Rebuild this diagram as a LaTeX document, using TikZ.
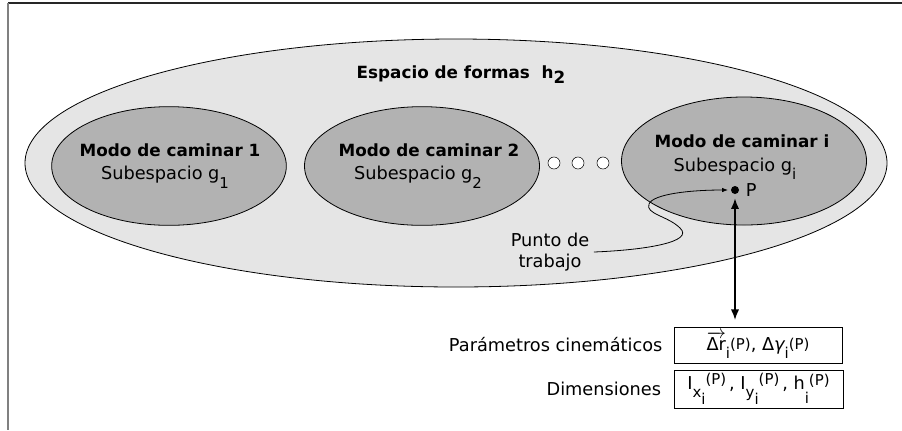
\documentclass[tikz,border=0pt]{standalone}
\usepackage{fontspec}
\setmainfont{DejaVu Sans}
\usetikzlibrary{
	shapes.geometric,
	arrows.meta,
	positioning
}
\newcommand{\sm}[2]{\raisebox{#1}{\fontsize{11.2}{12}\selectfont #2}}

\begin{document}
\begin{tikzpicture}[
            x=0.75pt, y=-0.75pt,
            every node/.style={font=\fontsize{13.3}{15.75}\selectfont},
            region/.style={ellipse, draw, inner sep=0pt, line width=0.6pt},
            espacio/.style={region, fill=black!10,
                minimum width=646.5pt, minimum height=186pt},
            modo/.style={region, fill=black!30,
                minimum width=176pt, minimum height=89pt},
            titulo/.style={anchor=base, font=\fontsize{12.6}{14}\selectfont\bfseries},
            texto/.style={anchor=base},
            hueco/.style={circle, draw, fill=white, minimum size=9pt, inner sep=0pt},
            caja/.style={draw, minimum width=126pt, minimum height=27pt, inner sep=0pt},
            arr/.style={{Latex[length=2.8mm, width=2.2mm]}-{Latex[length=2.8mm, width=2.2mm]}, line width=1.3pt},
            guia/.style={-{Latex[length=1.6mm]}, line width=0.6pt}
        ]
            \useasboundingbox (0,0) rectangle (902,430);
            \draw[black!85, line width=0.8pt] (902,3) -- (8,3);
            \draw[black!50, line width=1.3pt] (8,3) -- (8,430);

            % espacio y subespacios
            \node[espacio] (espacio) at (456,163) {};
            \node[modo] (modo1) at (169,166) {};
            \node[modo, minimum width=176.25pt] (modo2) at (422,166) {};
            \node[modo, minimum width=183.75pt, minimum height=96pt] (modoi) at (744,161) {};

            \node[titulo] (tespacio) at (461,78) {Espacio de formas\ \ h\raisebox{-0.35em}{2}};
            \node[titulo] (tmodo1) at (170,156) {Modo de caminar 1};
            \node[texto] (tsub1) at (165,179) {Subespacio g\sm{-0.55em}{1}};
            \node[titulo] (tmodo2) at (429,156) {Modo de caminar 2};
            \node[texto] (tsub2) at (418,179) {Subespacio g\sm{-0.55em}{2}};
            \node[titulo] (tmodoi) at (742,147) {Modo de caminar i};
            \node[texto] (tsubi) at (735,171) {Subespacio g\sm{-0.5em}{i}};

            \foreach \x/\n in {554/1, 578/2, 603/3}
                \node[hueco] (hueco\n) at (\x,163) {};

            % punto de trabajo
            \node[circle, fill, inner sep=0pt, minimum size=6pt] (p) at (735,190) {};
            \node[right=1.5pt of p] (tp) {P};
            \node[align=center] (tpunto) at (550,252) {Punto de\\trabajo};
            \draw[guia, shorten >=2pt] (tpunto.east)
                .. controls (645,250) and (695,242) .. (680,228)
                .. controls (668,216) and (645,214) .. (649,204)
                .. controls (653,194) and (690,190) .. (p.west);

            % parametros
            \node[caja] (caja1) at (758,345)
            {$\overrightarrow{\hbox{Δr}}$\sm{-0.45em}{i}\sm{0.05em}{(P)}, Δ{\itshape γ}\sm{-0.45em}{i}\sm{0.05em}{(P)}};
            \node[caja, minimum width=126.75pt, minimum height=28.5pt] (caja2) at (758.5,389)
            {I\sm{-0.45em}{x\sm{-0.45em}{i}}\sm{0.3em}{(P)}\,, I\sm{-0.45em}{y\sm{-0.45em}{i}}\sm{0.3em}{(P)}\,, h\sm{-0.75em}{i}\sm{0.25em}{(P)}};
            \node[left=5pt of caja1] (tcine) {Parámetros cinemáticos};
            \node[left=6pt of caja2] (tdim) {Dimensiones};

            \coordinate (pie) at (p |- caja1.north);
            \draw[arr, shorten <=3pt, shorten >=5pt] (p) -- (pie);
        \end{tikzpicture}
\end{document}
